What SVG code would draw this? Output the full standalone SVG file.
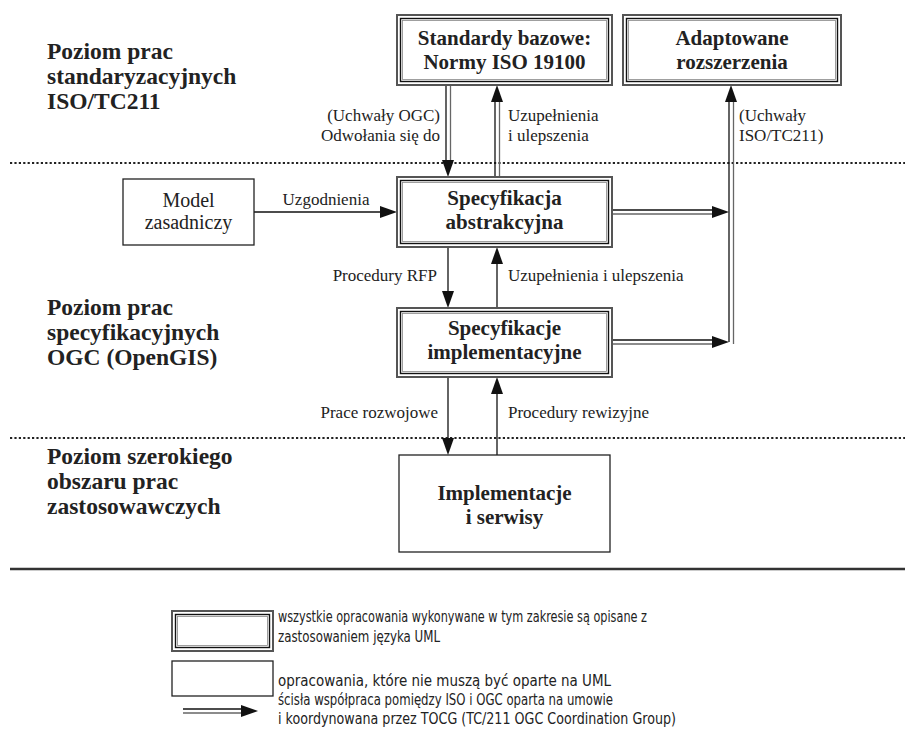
<svg xmlns="http://www.w3.org/2000/svg" width="911" height="731" viewBox="0 0 911 731">
<style>
.bg{fill:#fff}
.o{fill:#fff;stroke:#555;stroke-width:2}
.m{fill:none;stroke:#111;stroke-width:1.4}
.i{fill:none;stroke:#888;stroke-width:0.8}
.s{fill:#fff;stroke:#222;stroke-width:1.3}
.h{font-family:"Liberation Serif","Times New Roman",serif;font-weight:bold;font-size:23.5px;fill:#222}
.b{font-family:"Liberation Serif","Times New Roman",serif;font-weight:bold;font-size:21px;fill:#222;text-anchor:middle}
.n{font-family:"Liberation Serif","Times New Roman",serif;font-size:20px;fill:#222;text-anchor:middle}
.l{font-family:"Liberation Serif","Times New Roman",serif;font-size:17px;fill:#222}
.e{text-anchor:end}
.c{text-anchor:middle}
.g{font-family:"Liberation Sans Narrow","DejaVu Sans Condensed","Liberation Sans",sans-serif;font-size:15.5px;fill:#222}
.ln{stroke:#111;stroke-width:1.3;fill:none}
.lg{stroke:#666;stroke-width:1.3;fill:none}
.dot{stroke:#222;stroke-width:2.2;stroke-dasharray:2.2 2.2;fill:none}
.ah{fill:#111}
</style>
<rect class="bg" width="911" height="731"/>

<g id="separators">
<line class="dot" x1="10" y1="163" x2="905" y2="163"/>
<line class="dot" x1="10" y1="438" x2="905" y2="438"/>
<line x1="10" y1="569" x2="905" y2="569" stroke="#333" stroke-width="2.5"/>
</g>

<g id="level-labels">
<text class="h" x="47" y="59">Poziom prac</text>
<text class="h" x="47" y="84">standaryzacyjnych</text>
<text class="h" x="47" y="109">ISO/TC211</text>
<text class="h" x="47" y="315">Poziom prac</text>
<text class="h" x="47" y="340">specyfikacyjnych</text>
<text class="h" x="47" y="365">OGC (OpenGIS)</text>
<text class="h" x="47" y="464">Poziom szerokiego</text>
<text class="h" x="47" y="489">obszaru prac</text>
<text class="h" x="47" y="514">zastosowawczych</text>
</g>

<g id="connectors">
<line class="ln" x1="446" y1="85" x2="446" y2="162"/>
<line class="lg" x1="450.5" y1="85" x2="450.5" y2="162"/>
<polygon class="ah" points="442,160 454,160 448,177"/>
<line class="ln" x1="495" y1="177" x2="495" y2="100"/>
<line class="lg" x1="499.5" y1="177" x2="499.5" y2="100"/>
<polygon class="ah" points="491,102 503,102 497,85"/>
<line class="ln" x1="254" y1="212" x2="384" y2="212"/>
<polygon class="ah" points="380,206 380,218 397,212"/>
<line class="ln" x1="448" y1="247" x2="448" y2="294"/>
<polygon class="ah" points="442,291 454,291 448,308"/>
<line class="ln" x1="497" y1="308" x2="497" y2="260"/>
<polygon class="ah" points="491,264 503,264 497,247"/>
<line class="ln" x1="448" y1="377" x2="448" y2="441"/>
<polygon class="ah" points="442,438 454,438 448,455"/>
<line class="ln" x1="497" y1="455" x2="497" y2="390"/>
<polygon class="ah" points="491,394 503,394 497,377"/>
<line class="ln" x1="612" y1="210" x2="715" y2="210"/>
<line class="lg" x1="612" y1="214" x2="715" y2="214"/>
<polygon class="ah" points="712,206 712,218 729,212"/>
<line class="ln" x1="612" y1="340" x2="715" y2="340"/>
<line class="lg" x1="612" y1="344" x2="715" y2="344"/>
<polygon class="ah" points="712,336 712,348 729,342"/>
<line class="ln" x1="729" y1="342" x2="729" y2="100"/>
<line class="lg" x1="733.5" y1="344" x2="733.5" y2="100"/>
<polygon class="ah" points="725,102 737,102 731,85"/>
</g>

<g id="connector-labels">
<text class="l e" x="440" y="121">(Uchwały OGC)</text>
<text class="l e" x="440" y="141">Odwołania się do</text>
<text class="l" x="508" y="121">Uzupełnienia</text>
<text class="l" x="508" y="141">i ulepszenia</text>
<text class="l" x="739" y="121">(Uchwały</text>
<text class="l" x="739" y="141">ISO/TC211)</text>
<text class="l c" x="326" y="205">Uzgodnienia</text>
<text class="l e" x="437" y="281">Procedury RFP</text>
<text class="l" x="508" y="281">Uzupełnienia i ulepszenia</text>
<text class="l e" x="438" y="418">Prace rozwojowe</text>
<text class="l" x="508" y="418">Procedury rewizyjne</text>
</g>

<g id="node-standardy">
<rect class="o" x="397" y="15" width="215" height="70"/>
<rect class="m" x="400.5" y="18.5" width="208" height="63"/>
<rect class="i" x="402.5" y="20.5" width="204" height="59"/>
<text class="b" x="504.5" y="45">Standardy bazowe:</text>
<text class="b" x="504.5" y="69">Normy ISO 19100</text>
</g>

<g id="node-adaptowane">
<rect class="o" x="623" y="15" width="218" height="70"/>
<rect class="m" x="626.5" y="18.5" width="211" height="63"/>
<rect class="i" x="628.5" y="20.5" width="207" height="59"/>
<text class="b" x="732" y="45">Adaptowane</text>
<text class="b" x="732" y="69">rozszerzenia</text>
</g>

<g id="node-model">
<rect class="s" x="123" y="179" width="131" height="66"/>
<text class="n" x="188.5" y="207">Model</text>
<text class="n" x="188.5" y="229">zasadniczy</text>
</g>

<g id="node-spec-abstr">
<rect class="o" x="397" y="177" width="215" height="70"/>
<rect class="m" x="400.5" y="180.5" width="208" height="63"/>
<rect class="i" x="402.5" y="182.5" width="204" height="59"/>
<text class="b" x="504.5" y="205">Specyfikacja</text>
<text class="b" x="504.5" y="229">abstrakcyjna</text>
</g>

<g id="node-spec-impl">
<rect class="o" x="397" y="308" width="215" height="69"/>
<rect class="m" x="400.5" y="311.5" width="208" height="62"/>
<rect class="i" x="402.5" y="313.5" width="204" height="58"/>
<text class="b" x="504.5" y="335">Specyfikacje</text>
<text class="b" x="504.5" y="359">implementacyjne</text>
</g>

<g id="node-implementacje">
<rect class="s" x="399" y="455" width="211" height="97"/>
<text class="b" x="504.5" y="500">Implementacje</text>
<text class="b" x="504.5" y="524">i serwisy</text>
</g>

<g id="legend">
<rect class="o" x="172" y="611" width="101" height="40"/>
<rect class="m" x="175.5" y="614.5" width="94" height="33"/>
<rect class="i" x="177.5" y="616.5" width="90" height="29"/>
<rect class="s" x="172" y="661" width="101" height="35"/>
<line class="ln" x1="183" y1="709" x2="245" y2="709"/>
<line class="lg" x1="183" y1="713" x2="245" y2="713"/>
<polygon class="ah" points="241,705 241,717 258,711"/>
<text class="g" x="278" y="622" textLength="369" lengthAdjust="spacingAndGlyphs">wszystkie opracowania wykonywane w tym zakresie są opisane z</text>
<text class="g" x="278" y="642" textLength="162" lengthAdjust="spacingAndGlyphs">zastosowaniem języka UML</text>
<text class="g" x="278" y="686" textLength="333" lengthAdjust="spacingAndGlyphs">opracowania, które nie muszą być oparte na UML</text>
<text class="g" x="278" y="705" textLength="335" lengthAdjust="spacingAndGlyphs">ścisła współpraca pomiędzy ISO i OGC oparta na umowie</text>
<text class="g" x="278" y="724" textLength="398" lengthAdjust="spacingAndGlyphs">i koordynowana przez TOCG (TC/211 OGC Coordination Group)</text>
</g>
</svg>
